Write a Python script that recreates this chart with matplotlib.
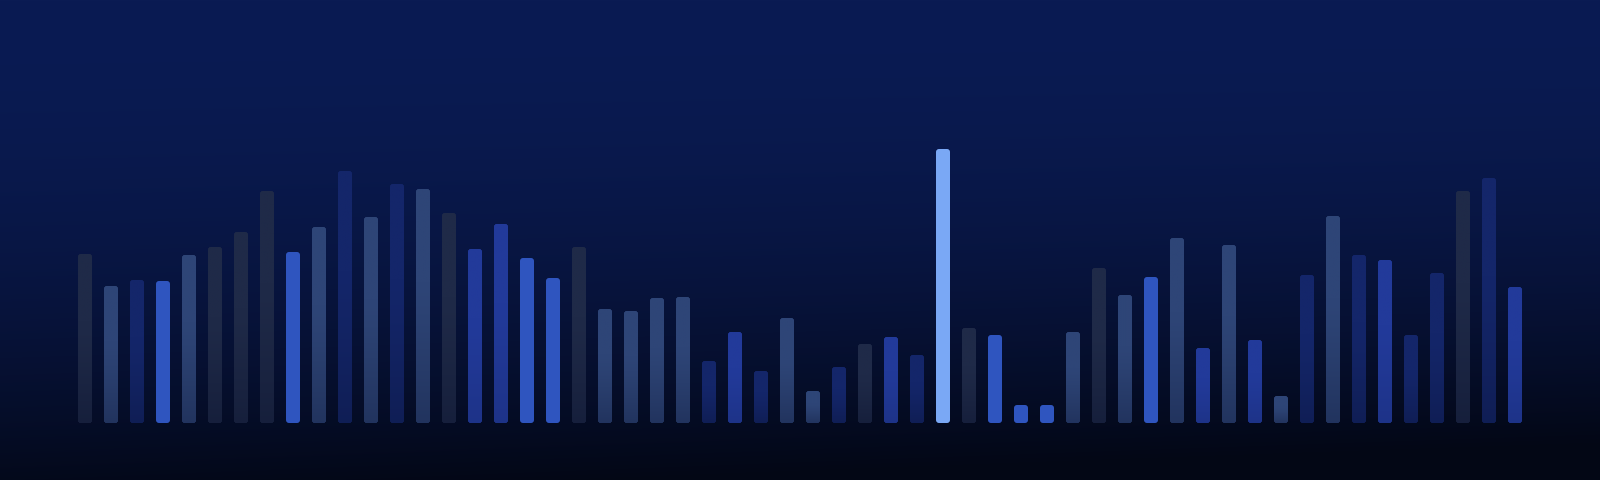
import matplotlib
matplotlib.use("Agg")
import matplotlib.pyplot as plt
import numpy as np
from matplotlib.colors import to_rgb
from matplotlib.patches import FancyBboxPatch

# bar heights (pixel-ish units, baseline = 0)
valores = [169, 137, 143, 142, 168, 176, 191, 232, 171, 196,
           252, 206, 239, 234, 210, 174, 199, 165, 145, 176,
           114, 112, 125, 126, 62, 91, 52, 105, 32, 56,
           79, 86, 68, 274, 95, 88, 18, 18, 91, 155,
           128, 146, 185, 75, 178, 83, 27, 148, 207, 168,
           163, 88, 150, 232, 245, 136]

# colour group of each bar
grupos = ["A", "B", "C", "D", "B", "A", "A", "A", "D", "B",
          "C", "B", "C", "B", "A", "E", "E", "D", "D", "A",
          "B", "B", "B", "B", "C", "E", "C", "B", "B", "C",
          "A", "E", "C", "F", "A", "D", "D", "D", "B", "A",
          "B", "D", "B", "E", "B", "E", "B", "C", "B", "C",
          "E", "C", "C", "A", "C", "E"]

COLORES = {
    "A": "#1f2a48",
    "B": "#2e4577",
    "C": "#14266a",
    "D": "#2f55bf",
    "E": "#223a9a",
    "F": "#7aa8f5",
}
# how much each group fades into the background near the baseline
DESVANECE = {"A": 0.35, "B": 0.3, "C": 0.3, "D": 0.0, "E": 0.15, "F": 0.0}

W, H = 1600, 480
fig = plt.figure(figsize=(16, 4.8), dpi=100)

# fondo degradado
bg = fig.add_axes([0, 0, 1, 1])
yy, xx = np.mgrid[0:H, 0:W]
fy = yy / H
fx = xx / W
t = np.clip(fy ** 2.0 * 0.9 + 0.25 * fx * fy ** 1.5, 0, 1)
arriba = np.array([0x0a, 0x1b, 0x53]) / 255
abajo = np.array([0x03, 0x07, 0x15]) / 255
img = arriba[None, None, :] * (1 - t[..., None]) + abajo[None, None, :] * t[..., None]
bg.imshow(img, extent=[0, W, H, 0], aspect="auto", interpolation="bilinear")
bg.set_axis_off()

ax = fig.add_axes([0, 0, 1, 1])
ax.patch.set_alpha(0)
ax.set_axis_off()

x = np.arange(len(valores))
paso = 26.0
ancho = 14 / paso

fondo_base = np.array([0x06, 0x0c, 0x26]) / 255
barras = ax.bar(x, valores, width=ancho, color=[COLORES[g] for g in grupos])
for rect, g in zip(barras, grupos):
    rect.set_visible(False)
    x0, y0 = rect.get_x(), rect.get_y()
    w, h = rect.get_width(), rect.get_height()
    p = FancyBboxPatch(
        (x0, y0), w, h,
        boxstyle="round,pad=0,rounding_size=%f" % (3 / paso),
        mutation_aspect=paso,
        facecolor=COLORES[g], edgecolor="none",
    )
    ax.add_patch(p)
    k = DESVANECE[g]
    if k > 0:
        # degradado hacia la base, recortado a la barra
        n = 64
        s = np.linspace(0, 1, n)[:, None]  # 0 = arriba, 1 = base
        peso = k * np.clip((s - 0.4) / 0.6, 0, 1) ** 1.2
        c = np.array(to_rgb(COLORES[g]))
        col = c[None, :] * (1 - peso) + fondo_base[None, :] * peso
        im = ax.imshow(col[:, None, :], extent=[x0, x0 + w, y0, y0 + h],
                       aspect="auto", interpolation="bilinear", zorder=2)
        im.set_clip_path(p)

ax.set_xlim(-85 / paso, (W - 85) / paso)
ax.set_ylim(-(H - 423), 423)

fig.savefig("out.png", dpi=100)
